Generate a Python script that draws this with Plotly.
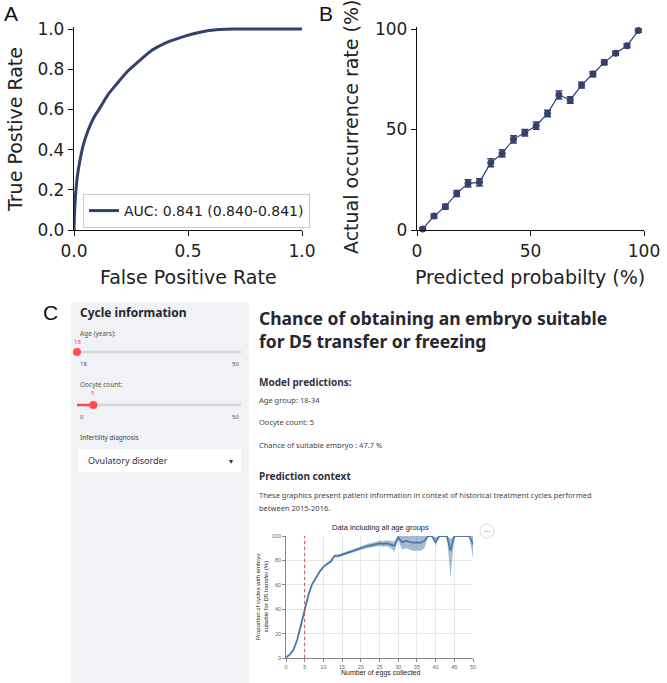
import plotly.graph_objects as go

W, H = 667, 683


def X(px):
    return px / W


def Y(py):
    return 1 - py / H


# ---------------- Panel A: ROC curve ----------------
roc_fpr = [0, 0.003, 0.008, 0.015, 0.025, 0.04, 0.06, 0.085, 0.115, 0.15, 0.19, 0.235,
           0.285, 0.34, 0.40, 0.46, 0.52, 0.58, 0.64, 0.70, 0.80, 0.90, 1.0]
roc_tpr = [0, 0.10, 0.19, 0.27, 0.34, 0.42, 0.49, 0.555, 0.61, 0.675, 0.73, 0.79,
           0.84, 0.893, 0.93, 0.955, 0.975, 0.99, 0.997, 1.0, 1.0, 1.0, 1.0]
roc_label = "AUC: 0.841 (0.840-0.841)"
a_xticks = [0, 0.5, 1.0]
a_yticks = [0, 0.2, 0.4, 0.6, 0.8, 1.0]

# ---------------- Panel B: calibration ----------------
calib_pred = [2.5, 7.5, 12.5, 17.5, 22.5, 27.5, 32.5, 37.5, 42.5, 47.5,
              52.5, 57.5, 62.5, 67.5, 72.5, 77.5, 82.5, 87.5, 92.5, 97.5]
calib_actual = [0.5, 7.0, 11.6, 18.2, 23.2, 23.7, 33.5, 38.1, 45.1, 48.4,
                51.9, 58.0, 67.2, 64.7, 72.1, 77.6, 83.4, 87.9, 91.7, 99.2]
calib_err = [0.8, 1.0, 1.2, 1.5, 1.8, 1.8, 2.0, 1.8, 1.8, 1.6,
             1.8, 1.6, 2.0, 1.6, 1.4, 1.3, 1.2, 1.0, 1.0, 0.8]
b_ticks = [0, 50, 100]

# ---------------- Panel C: app screenshot ----------------
age_value = 18
age_min, age_max = 18, 50
oocyte_value = 5
oocyte_min, oocyte_max = 0, 50
diagnosis = "Ovulatory disorder"
age_group = "18-34"
chance = 47.7

eggs = list(range(0, 51))
prop_mean = [0.5, 2.7, 6.8, 15, 27, 39.4, 51.6, 60.6, 66, 70.7,
             74.7, 77.4, 79.3, 83.7, 83.7, 84.8, 85.6, 86.7, 87.8, 88.9,
             90, 91.5, 92, 92.5, 93.5, 94, 93.5, 94, 93, 92,
             99, 95, 96, 95, 94.5, 94.5, 94.5, 96, 100, 100,
             95, 100, 100, 100, 88, 100, 100, 100, 100, 100, 93]
prop_lower = [0, 2, 6, 14, 26, 38.4, 50.6, 59.6, 65, 69.7,
              73.7, 76.4, 78.2, 82.5, 82.5, 83.6, 84.3, 85.3, 86.4, 87.4,
              88.5, 89.8, 90.2, 90.6, 91.5, 91.8, 91.2, 91.5, 90, 87,
              97, 89, 90, 89, 88, 88, 88, 90, 100, 100,
              92, 100, 100, 100, 66, 100, 100, 100, 100, 100, 82]
prop_upper = [1, 3.4, 7.6, 16, 28, 40.4, 52.6, 61.6, 67, 71.7,
              75.7, 78.4, 80.4, 84.9, 84.9, 86, 86.9, 88.1, 89.2, 90.4,
              91.5, 93.2, 93.8, 94.4, 95.5, 96.2, 95.8, 96.5, 96, 96,
              100, 100, 100, 100, 100, 100, 100, 100, 100, 100,
              99, 100, 100, 100, 98, 100, 100, 100, 100, 100, 100]

NAVY = "#34406e"
MPL_FONT = "DejaVu Sans"
APP_FONT = "Noto Sans"
ST_RED = "#ff4b4b"

fig = go.Figure()

# Panel A trace
fig.add_trace(go.Scatter(x=roc_fpr, y=roc_tpr, mode="lines", name=roc_label,
                         line=dict(color=NAVY, width=3, shape="spline", smoothing=0.8),
                         xaxis="x", yaxis="y", showlegend=True))

# Panel B trace
fig.add_trace(go.Scatter(x=calib_pred, y=calib_actual, mode="lines+markers",
                         line=dict(color=NAVY, width=1.2),
                         marker=dict(color=NAVY, size=7),
                         error_y=dict(type="data", array=calib_err, color=NAVY,
                                      thickness=1.5, width=3.5),
                         cliponaxis=False, xaxis="x2", yaxis="y2", showlegend=False))

# Panel C inner chart
BLUE = "#4c78a8"
fig.add_trace(go.Scatter(x=eggs, y=prop_lower, mode="lines", line=dict(width=0, color=BLUE),
                         xaxis="x3", yaxis="y3", showlegend=False, hoverinfo="skip"))
fig.add_trace(go.Scatter(x=eggs, y=prop_upper, mode="lines", line=dict(width=0, color=BLUE),
                         fill="tonexty", fillcolor="rgba(76,120,168,0.5)",
                         xaxis="x3", yaxis="y3", showlegend=False, hoverinfo="skip"))
fig.add_trace(go.Scatter(x=eggs, y=prop_mean, mode="lines", line=dict(width=1.8, color=BLUE),
                         xaxis="x3", yaxis="y3", showlegend=False))

shapes = []
# sidebar background
shapes.append(dict(type="rect", xref="paper", yref="paper", x0=X(71), x1=X(249), y0=Y(683), y1=Y(302),
                   fillcolor="#f0f2f6", line=dict(width=0), layer="below"))


def slider_x(v, vmin, vmax):
    return 77 + (v - vmin) / (vmax - vmin) * (241 - 77)


# age slider
shapes.append(dict(type="line", xref="paper", yref="paper", x0=X(77), x1=X(241), y0=Y(352), y1=Y(352),
                   line=dict(color="#d5d6da", width=2.5)))
ax_ = slider_x(age_value, age_min, age_max)
shapes.append(dict(type="circle", xref="paper", yref="paper", x0=X(ax_ - 4), x1=X(ax_ + 4),
                   y0=Y(356), y1=Y(348), fillcolor=ST_RED, line=dict(width=0)))
# oocyte slider
ox_ = slider_x(oocyte_value, oocyte_min, oocyte_max)
shapes.append(dict(type="line", xref="paper", yref="paper", x0=X(77), x1=X(241), y0=Y(405), y1=Y(405),
                   line=dict(color="#d5d6da", width=2.5)))
shapes.append(dict(type="line", xref="paper", yref="paper", x0=X(77), x1=X(ox_), y0=Y(405), y1=Y(405),
                   line=dict(color=ST_RED, width=2.5)))
shapes.append(dict(type="circle", xref="paper", yref="paper", x0=X(ox_ - 4), x1=X(ox_ + 4),
                   y0=Y(409), y1=Y(401), fillcolor=ST_RED, line=dict(width=0)))
# select box
shapes.append(dict(type="rect", xref="paper", yref="paper", x0=X(78), x1=X(241), y0=Y(472), y1=Y(449),
                   fillcolor="white", line=dict(width=0)))
# red reference line in inner chart
shapes.append(dict(type="line", xref="x3", yref="y3", x0=oocyte_value, x1=oocyte_value, y0=0, y1=100,
                   line=dict(color="#e8413c", width=1, dash="dot")))
# "..." button
shapes.append(dict(type="circle", xref="paper", yref="paper", x0=X(480), x1=X(494), y0=Y(538), y1=Y(524),
                   fillcolor="white", line=dict(color="#dddddd", width=1)))

ann = []


def text(t, x, y, size, family=APP_FONT, color="#31333f", xanchor="left", bold=False, angle=0):
    s = f"<b>{t}</b>" if bold else t
    ann.append(dict(text=s, x=X(x), y=Y(y), xref="paper", yref="paper", showarrow=False,
                    xanchor=xanchor, yanchor="middle", textangle=angle, align="left",
                    font=dict(family=family, size=size, color=color)))


# panel letters
text("A", 11, 13, 21, family="Liberation Sans", color="#111", xanchor="center")
text("B", 326, 13, 21, family="Liberation Sans", color="#111", xanchor="center")
text("C", 50, 313, 21, family="Liberation Sans", color="#111", xanchor="center")

# axis titles A/B
text("False Positive Rate", 188, 277, 19, family=MPL_FONT, color="#222", xanchor="center")
text("True Postive Rate", 15, 130, 19, family=MPL_FONT, color="#222", xanchor="center", angle=-90)
text("Predicted probabilty (%)", 530, 277, 19, family=MPL_FONT, color="#222", xanchor="center")
text("Actual occurrence rate (%)", 351, 127, 19, family=MPL_FONT, color="#222", xanchor="center", angle=-90)

# sidebar
text("Cycle information", 78, 313, 12, bold=True, color="#262730")
text("Age (years):", 78, 333, 6.5, color="#555")
text(str(age_value), ax_, 342, 6, color=ST_RED, xanchor="center")
text(str(age_min), 78, 364, 6, color="#555")
text(str(age_max), 241, 364, 6, color="#555", xanchor="right")
text("Oocyte count:", 78, 384, 6.5, color="#555")
text(str(oocyte_value), ox_, 393, 6, color=ST_RED, xanchor="center")
text(str(oocyte_min), 78, 417, 6, color="#555")
text(str(oocyte_max), 241, 417, 6, color="#555", xanchor="right")
text("Infertility diagnosis", 78, 437, 6.5, color="#444")
text(diagnosis, 86, 460, 9, color="#31333f")
text("▾", 231, 460, 8, color="#31333f", xanchor="center")

# main area
text("<b>Chance of obtaining an embryo suitable<br>for D5 transfer or freezing</b>", 257, 329.5, 17.5,
     color="#262730")
text("Model predictions:", 257, 382, 10, bold=True, color="#31333f")
text(f"Age group: {age_group}", 257, 400, 7.5, color="#444")
text(f"Oocyte count: {oocyte_value}", 257, 422, 7.5, color="#444")
text(f"Chance of suitable embryo : {chance} %", 257, 445, 7.5, color="#444")
text("Prediction context", 257, 476, 10, bold=True, color="#31333f")
text("These graphics present patient information in context of historical treatment cycles performed",
     257, 495, 7.5, color="#444")
text("between 2015-2016.", 257, 508, 7.5, color="#444")

# inner chart labels
text("Data including all age groups", 380, 527, 7.5, family="Liberation Sans", color="#222", xanchor="center")
text("Number of eggs collected", 380, 673, 7, family="Liberation Sans", color="#222", xanchor="center")
ann.append(dict(text="Proportion of cycles with embryo<br>suitable for D5 transfer (%)", x=X(262), y=Y(597),
                xref="paper", yref="paper", showarrow=False, xanchor="center", yanchor="middle",
                textangle=-90, align="center", font=dict(family="Liberation Sans", size=6, color="#222")))
text("···", 487, 531, 8, color="#999", xanchor="center")

mpl_axis = dict(showline=True, linecolor="#111", linewidth=1.3, ticks="outside", ticklen=5,
                tickcolor="#111", tickwidth=1.3, showgrid=False, zeroline=False, automargin=False,
                tickfont=dict(family=MPL_FONT, size=17, color="#222"), fixedrange=True)
vega_axis = dict(showline=True, linecolor="#888", linewidth=0.8, ticks="outside", ticklen=3,
                 tickcolor="#888", tickwidth=0.8, showgrid=True, gridcolor="#e6e6e6", gridwidth=0.8,
                 zeroline=False, automargin=False,
                 tickfont=dict(family="Liberation Sans", size=5.5, color="#666"),
                 fixedrange=True)

fig.update_layout(
    width=W, height=H, margin=dict(l=0, r=0, t=0, b=0, pad=0, autoexpand=False),
    paper_bgcolor="white", plot_bgcolor="white",
    xaxis=dict(domain=[X(74), X(302)], range=[0, 1], tickvals=a_xticks,
               ticktext=[f"{v:.1f}" for v in a_xticks], anchor="y", **mpl_axis),
    yaxis=dict(domain=[Y(230), Y(27)], range=[0, 1.01], tickvals=a_yticks,
               ticktext=[f"{v:.1f}" for v in a_yticks], anchor="x", **mpl_axis),
    xaxis2=dict(domain=[X(417), X(644)], range=[0, 100], tickvals=b_ticks, anchor="y2", **mpl_axis),
    yaxis2=dict(domain=[Y(230), Y(27)], range=[0, 101], tickvals=b_ticks, anchor="x2", **mpl_axis),
    xaxis3=dict(domain=[X(286), X(473)], range=[0, 50], dtick=5, anchor="y3", **vega_axis),
    yaxis3=dict(domain=[Y(658), Y(536)], range=[0, 100], dtick=20, anchor="x3", **vega_axis),
    legend=dict(x=X(83), y=Y(194), xanchor="left", yanchor="top", bordercolor="#cccccc", borderwidth=1,
                bgcolor="rgba(255,255,255,0.85)", itemwidth=30,
                font=dict(family=MPL_FONT, size=14, color="#222")),
    shapes=shapes, annotations=ann,
)

fig.write_html("out.html", config={"displayModeBar": False},
               post_script="document.body.style.margin='0px';document.body.style.overflow='hidden';")
